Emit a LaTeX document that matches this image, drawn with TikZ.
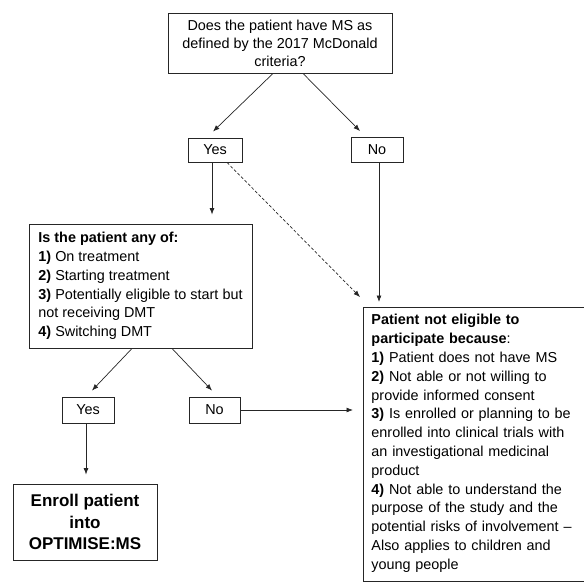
\documentclass[tikz,border=0pt]{standalone}
\usepackage{fontspec}
\setmainfont{Liberation Sans}
\usetikzlibrary{positioning, arrows.meta}

\begin{document}
\begin{tikzpicture}[x=1pt, y=-1pt,
    box/.style={draw=black!85, line width=0.9pt, inner sep=0pt, font=\fontsize{14.4}{18.8}\selectfont},
    arr/.style={-{Latex[length=6.5pt,width=5pt]}, line width=0.7pt, black!85}]
    \useasboundingbox (0,0) rectangle (584,582);

    % McDonald question
    \node[box, minimum width=224pt, minimum height=60pt, align=center, font=\fontsize{14.4}{18}\selectfont] (question) at (280,43) {Does the patient have MS as\\defined by the 2017 McDonald\\criteria?};
    \node[box, minimum width=54pt, minimum height=24pt] (yesms) at (215,150) {Yes};
    \node[box, minimum width=52pt, minimum height=25pt] (noms) at (377,150) {No};

    % Treatment status
    \node[box, minimum width=223pt, minimum height=124pt, align=left] (status) at (140.5,286) {\textbf{Is the patient any of:}\\\textbf{1)} On treatment\\\textbf{2)} Starting treatment\\\textbf{3)} Potentially eligible to start but\\not receiving DMT\\\textbf{4)} Switching DMT};
    \node[box, minimum width=52pt, minimum height=26pt] (yestreat) at (88,410) {Yes};
    \node[box, minimum width=51pt, minimum height=26pt] (notreat) at (214.5,410) {No};

    % Outcomes
    \node[box, minimum width=144pt, minimum height=76pt, align=center, font=\bfseries\fontsize{17}{21.7}\selectfont] (enroll) at (85,522) {Enroll patient\\into\\OPTIMISE:MS};
    \node[box, anchor=north west, inner xsep=8pt, inner ysep=7pt, text width=240pt, align=left] (noteligible) at (363,307) {\textbf{Patient not eligible to}\\\textbf{participate because}:\\\textbf{1)} Patient does not have MS\\\textbf{2)} Not able or not willing to\\provide informed consent\\\textbf{3)} Is enrolled or planning to be\\enrolled into clinical trials with\\an investigational medicinal\\product\\\textbf{4)} Not able to understand the\\purpose of the study and the\\potential risks of involvement --\\Also applies to children and\\young people\rule[-5pt]{0pt}{1pt}};

    % Arrows
    \draw[arr] ([xshift=-7pt]question.south) -- ([xshift=-2pt,yshift=6pt]yesms.north);
    \draw[arr] ([xshift=23pt]question.south) -- ([xshift=-17pt,yshift=6pt]noms.north);
    \draw[arr] ([xshift=-3pt]yesms.south) -- ([xshift=-3pt,yshift=9pt]yesms.south |- status.north);
    \draw[arr, dash pattern=on 3pt off 2pt] ([xshift=12pt]yesms.south) -- ([xshift=-3pt,yshift=10pt]noteligible.north west);
    \draw[arr] ([xshift=2pt]noms.south) -- ([xshift=2pt,yshift=5pt]noms.south |- noteligible.north);
    \draw[arr] ([xshift=-8.5pt]status.south) -- ([xshift=4pt,yshift=6pt]yestreat.north);
    \draw[arr] ([xshift=31.5pt]status.south) -- ([xshift=-2.5pt,yshift=6pt]notreat.north);
    \draw[arr] (notreat.east) -- ([xshift=-10pt]notreat.east -| noteligible.west);
    \draw[arr] ([xshift=-2pt]yestreat.south) -- ([xshift=-2pt,yshift=9pt]yestreat.south |- enroll.north);
\end{tikzpicture}
\end{document}
